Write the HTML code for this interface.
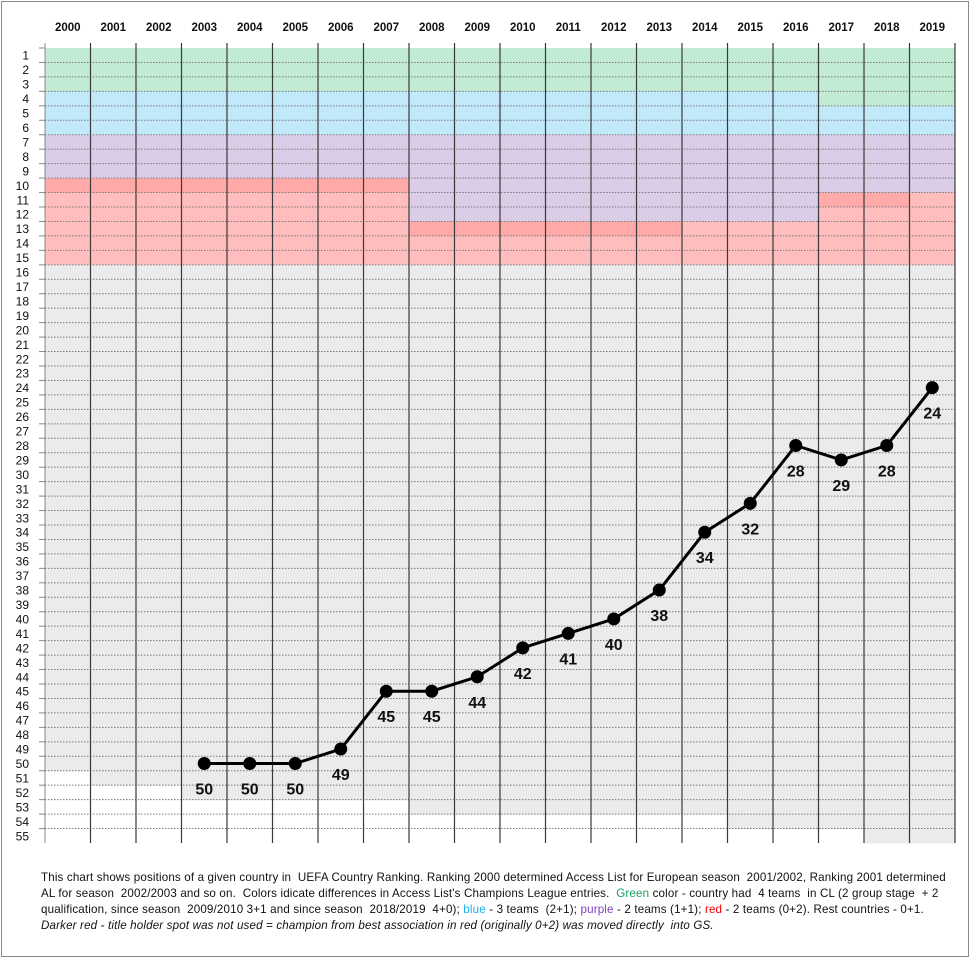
<!DOCTYPE html>
<html><head><meta charset="utf-8">
<style>
body{margin:0;background:#fff;}
#wrap{position:relative;width:971px;height:958px;overflow:hidden;font-family:"Liberation Sans",sans-serif;}
#frame{position:absolute;left:1px;top:1px;width:966px;height:954px;border:1px solid #8a8a8a;}
#note{position:absolute;left:41px;top:870px;width:925px;font-size:11.6px;line-height:16px;color:#111;white-space:nowrap;letter-spacing:0.15px;}
</style></head><body>
<div id="wrap">
<div id="frame"></div>
<svg id="chart" width="971" height="958" style="position:absolute;left:0;top:0"></svg>
<div id="note">This chart shows positions of a given country in&nbsp; UEFA Country Ranking. Ranking 2000 determined Access List for European season&nbsp; 2001/2002, Ranking 2001 determined<br>AL for season&nbsp; 2002/2003 and so on.&nbsp; Colors idicate differences in Access List's Champions League entries.&nbsp; <span style="color:#1aa060">Green</span> color - country had&nbsp; 4 teams&nbsp; in CL (2 group stage&nbsp; + 2<br>qualification, since season&nbsp; 2009/2010 3+1 and since season&nbsp; 2018/2019&nbsp; 4+0); <span style="color:#1ab0f0">blue</span> - 3 teams&nbsp; (2+1); <span style="color:#8040c0">purple</span> - 2 teams (1+1); <span style="color:#f00000">red</span> - 2 teams (0+2). Rest countries - 0+1.<br><i>Darker red - title holder spot was not used = champion from best association in red (originally 0+2) was moved directly&nbsp; into GS.</i></div>
</div>
<script>
const years=[2000,2001,2002,2003,2004,2005,2006,2007,2008,2009,2010,2011,2012,2013,2014,2015,2016,2017,2018,2019];
const greenEnd=[3,3,3,3,3,3,3,3,3,3,3,3,3,3,3,3,3,4,4,4];
const blueEnd=[6,6,6,6,6,6,6,6,6,6,6,6,6,6,6,6,6,6,6,6];
const purpleEnd=[9,9,9,9,9,9,9,9,12,12,12,12,12,12,12,12,12,10,10,10];
const redEnd=[15,15,15,15,15,15,15,15,15,15,15,15,15,15,15,15,15,15,15,15];
const darkRow=[10,10,10,10,10,10,10,10,13,13,13,13,13,13,0,0,0,11,11,0];
const grayEnd=[50,51,51,52,52,52,52,52,53,53,53,53,53,53,53,54,54,54,55,55];
const posYears=[2003,2004,2005,2006,2007,2008,2009,2010,2011,2012,2013,2014,2015,2016,2017,2018,2019];
const positions=[50,50,50,49,45,45,44,42,41,40,38,34,32,28,29,28,24];
const rowCount=55;

const svg=document.getElementById('chart');
const NS='http://www.w3.org/2000/svg';
const L=45,R=955,T=48,B=843;
const colW=(R-L)/years.length, rowH=(B-T)/rowCount;
const xCol=i=>L+i*colW;
const xYear=y=>L+(years.indexOf(y)+0.5)*colW;
const yRowTop=r=>T+(r-1)*rowH;
const yPos=r=>T+(r-0.5)*rowH;
function mk(tag,attrs){const e=document.createElementNS(NS,tag);for(const k in attrs)e.setAttribute(k,attrs[k]);svg.appendChild(e);return e;}

years.forEach((yr,i)=>{
  for(let r=1;r<=rowCount;r++){
    let c='#ffffff';
    if(r<=greenEnd[i])c='#c2ebd3';
    else if(r<=blueEnd[i])c='#c1e9f9';
    else if(r<=purpleEnd[i])c='#dbcce7';
    else if(r<=redEnd[i])c=(r===darkRow[i])?'#ffa9a9':'#ffbdbd';
    else if(r<=grayEnd[i])c='#ebebeb';
    if(c==='#ffffff')continue;
    const e=mk('rect',{x:xCol(i),y:yRowTop(r),width:colW+0.5,height:rowH+0.5,fill:c});
    
    
  }
});
for(let r=1;r<=rowCount;r++){
  if(r<rowCount){
    const ln=mk('line',{x1:L,x2:R,y1:yRowTop(r+1),y2:yRowTop(r+1),stroke:'#7a7a7a','stroke-width':1,'stroke-dasharray':'1.5,1.5'});
    
    
  }
  const tk=mk('line',{x1:L-6,x2:L,y1:yRowTop(r),y2:yRowTop(r),stroke:'#888','stroke-width':1});
  
  
  const t=mk('text',{x:29,y:yPos(r)+4.5,'text-anchor':'end','font-size':'12','fill':'#111','font-family':'Liberation Sans, sans-serif'});
  t.textContent=r;
  
  
}
const ax=mk('line',{x1:L,x2:L,y1:T-5,y2:B,stroke:'#888','stroke-width':1});


years.forEach((yr,i)=>{
  if(i>0){
    const v=mk('line',{x1:xCol(i),x2:xCol(i),y1:T-5,y2:B,stroke:'#3a3a3a','stroke-width':1.2});
    
    
  }
  const t=mk('text',{x:xCol(i)+colW/2,y:31,'text-anchor':'middle','font-size':'11.5','font-weight':'bold','fill':'#111','font-family':'Liberation Sans, sans-serif'});
  t.textContent=yr;
  
  
});
const vr=mk('line',{x1:R,x2:R,y1:T-5,y2:B,stroke:'#3a3a3a','stroke-width':1.2});


const pts=posYears.map((y,i)=>xYear(y)+','+yPos(positions[i])).join(' ');
const pl=mk('polyline',{points:pts,fill:'none',stroke:'#000','stroke-width':3,'stroke-linejoin':'round'});


posYears.forEach((y,i)=>{
  const c=mk('circle',{cx:xYear(y),cy:yPos(positions[i]),r:6.5,fill:'#000'});
  
  
  const t=mk('text',{x:xYear(y),y:yPos(positions[i])+31,'text-anchor':'middle','font-size':'16','font-weight':'bold','fill':'#111','font-family':'Liberation Sans, sans-serif'});
  t.textContent=positions[i];
  
  
});
</script>
</body></html>
